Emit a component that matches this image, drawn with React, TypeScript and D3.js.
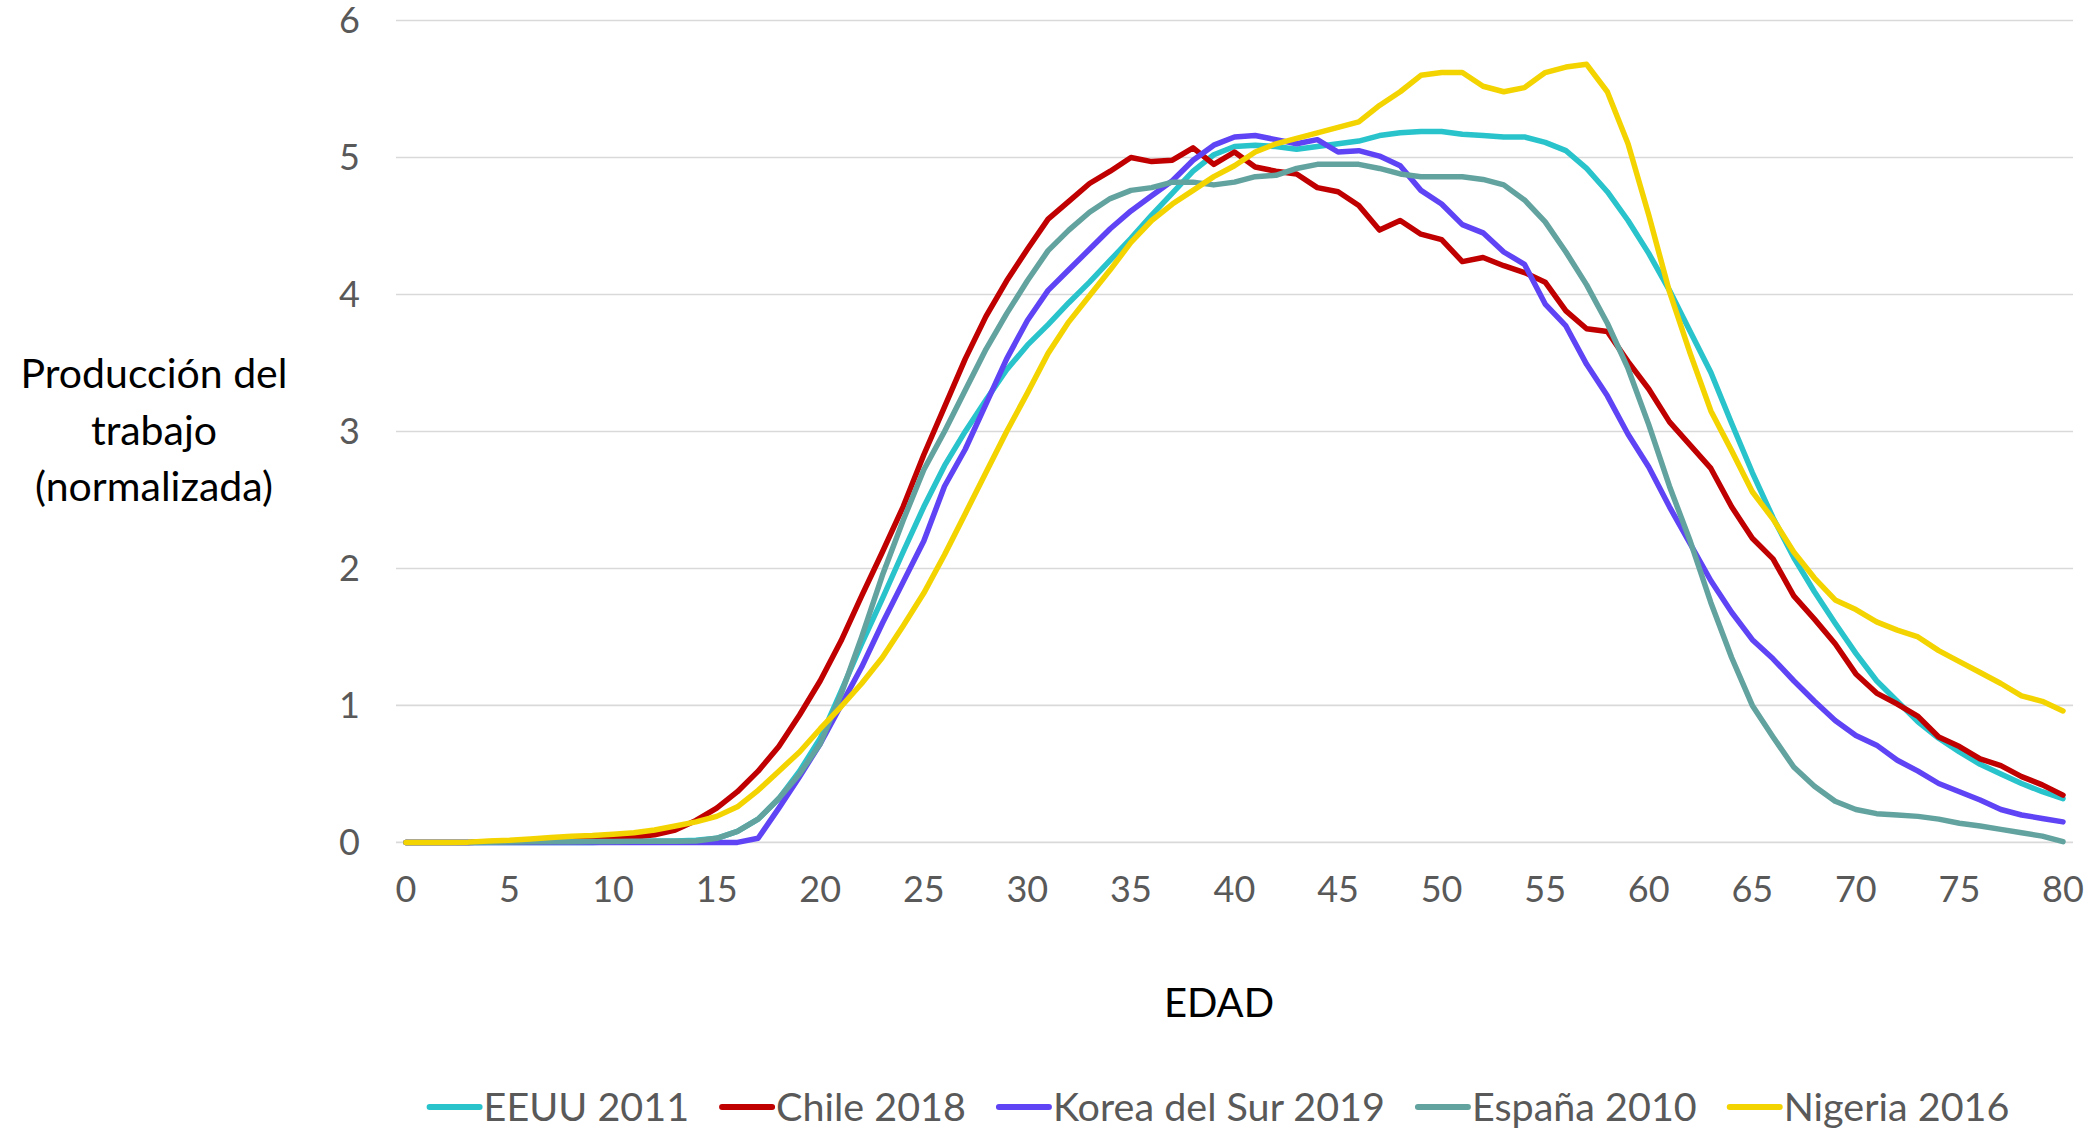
import React, { useEffect, useRef } from "react";
import * as d3 from "d3";

const ages: number[] = [
  0, 1, 2, 3, 4, 5, 6, 7, 8, 9, 10, 11, 12, 13, 14, 15, 16, 17, 18, 19, 20,
  21, 22, 23, 24, 25, 26, 27, 28, 29, 30, 31, 32, 33, 34, 35, 36, 37, 38, 39, 40,
  41, 42, 43, 44, 45, 46, 47, 48, 49, 50, 51, 52, 53, 54, 55, 56, 57, 58, 59, 60,
  61, 62, 63, 64, 65, 66, 67, 68, 69, 70, 71, 72, 73, 74, 75, 76, 77, 78, 79, 80,
];

const eeuu2011: number[] = [
  0, 0, 0, 0, 0, 0, 0, 0, 0, 0, 0.005, 0.005, 0.01, 0.01, 0.015,
  0.03, 0.08, 0.17, 0.32, 0.52, 0.76, 1.1, 1.45, 1.78, 2.12, 2.45, 2.75, 3.0, 3.23, 3.45,
  3.63, 3.78, 3.94, 4.09, 4.25, 4.41, 4.58, 4.74, 4.9, 5.02, 5.08, 5.09, 5.08, 5.06, 5.08,
  5.1, 5.12, 5.16, 5.18, 5.19, 5.19, 5.17, 5.16, 5.15, 5.15, 5.11, 5.05, 4.92, 4.75, 4.54,
  4.3, 4.03, 3.73, 3.43, 3.06, 2.7, 2.37, 2.08, 1.83, 1.6, 1.38, 1.18, 1.03, 0.88, 0.76,
  0.66, 0.57, 0.5, 0.43, 0.37, 0.32,
];

const chile2018: number[] = [
  0, 0, 0, 0, 0.005, 0.01, 0.015, 0.02, 0.025, 0.03, 0.035, 0.04, 0.055, 0.09, 0.16,
  0.25, 0.37, 0.52, 0.7, 0.93, 1.18, 1.47, 1.8, 2.12, 2.45, 2.83, 3.18, 3.53, 3.84, 4.1,
  4.33, 4.55, 4.68, 4.81, 4.9, 5.0, 4.97, 4.98, 5.07, 4.95, 5.04, 4.93, 4.9, 4.88, 4.78,
  4.75, 4.65, 4.47, 4.54, 4.44, 4.4, 4.24, 4.27, 4.21, 4.16, 4.09, 3.88, 3.75, 3.73, 3.51,
  3.31, 3.07, 2.9, 2.73, 2.45, 2.22, 2.07, 1.8, 1.63, 1.45, 1.23, 1.09, 1.01, 0.92, 0.77,
  0.7, 0.61, 0.56, 0.48, 0.42, 0.345,
];

const korea2019: number[] = [
  0, 0, 0, 0, 0, 0, 0, 0, 0, 0, 0, 0, 0, 0, 0,
  0, 0, 0.03, 0.25, 0.48, 0.72, 1.0, 1.28, 1.6, 1.9, 2.2, 2.6, 2.87, 3.2, 3.53,
  3.81, 4.03, 4.18, 4.33, 4.48, 4.61, 4.72, 4.83, 4.98, 5.09, 5.15, 5.16, 5.13, 5.1, 5.13,
  5.04, 5.05, 5.01, 4.94, 4.76, 4.66, 4.51, 4.45, 4.31, 4.22, 3.93, 3.77, 3.49, 3.26, 2.98,
  2.74, 2.45, 2.18, 1.91, 1.68, 1.48, 1.34, 1.18, 1.03, 0.89, 0.78, 0.71, 0.6, 0.52, 0.43,
  0.37, 0.31, 0.24, 0.2, 0.175, 0.15,
];

const espana2010: number[] = [
  0, 0, 0, 0, 0.002, 0.003, 0.004, 0.005, 0.005, 0.006, 0.007, 0.008, 0.008, 0.009, 0.01,
  0.03, 0.08, 0.17, 0.32, 0.5, 0.72, 1.08, 1.5, 1.95, 2.35, 2.72, 3.0, 3.3, 3.6, 3.86,
  4.1, 4.32, 4.47, 4.6, 4.7, 4.76, 4.78, 4.82, 4.82, 4.8, 4.82, 4.86, 4.87, 4.92, 4.95,
  4.95, 4.95, 4.92, 4.88, 4.86, 4.86, 4.86, 4.84, 4.8, 4.69, 4.53, 4.31, 4.07, 3.79, 3.46,
  3.05, 2.6, 2.2, 1.75, 1.35, 1.0, 0.77, 0.55, 0.41, 0.3, 0.24, 0.21, 0.2, 0.19, 0.17,
  0.14, 0.12, 0.095, 0.07, 0.046, 0.005,
];

const nigeria2016: number[] = [
  0, 0, 0, 0.002, 0.01, 0.015, 0.025, 0.035, 0.045, 0.05, 0.06, 0.07, 0.09, 0.12, 0.15,
  0.19, 0.26, 0.38, 0.52, 0.66, 0.83, 0.99, 1.16, 1.35, 1.58, 1.82, 2.1, 2.4, 2.7, 3.0,
  3.28, 3.57, 3.8, 3.99, 4.18, 4.38, 4.54, 4.66, 4.76, 4.86, 4.94, 5.04, 5.1, 5.14, 5.18,
  5.22, 5.26, 5.38, 5.48, 5.6, 5.62, 5.62, 5.52, 5.48, 5.51, 5.62, 5.66, 5.68, 5.48, 5.1,
  4.58, 4.02, 3.57, 3.15, 2.86, 2.56, 2.36, 2.12, 1.93, 1.77, 1.7, 1.61, 1.55, 1.5, 1.4,
  1.32, 1.24, 1.16, 1.07, 1.03, 0.96,
];

const seriesNames: string[] = ["EEUU 2011", "Chile 2018", "Korea del Sur 2019", "España 2010", "Nigeria 2016"];
const seriesColors: string[] = ["#28C3CB", "#C00000", "#5E44F4", "#62A39F", "#F4D400"];
const seriesValues: number[][] = [eeuu2011, chile2018, korea2019, espana2010, nigeria2016];

const yTicks: number[] = [0, 1, 2, 3, 4, 5, 6];
const xTickLabels: number[] = [0, 5, 10, 15, 20, 25, 30, 35, 40, 45, 50, 55, 60, 65, 70, 75, 80];
const yTitleLines: string[] = ["Producción del", "trabajo", "(normalizada)"];
const xTitle = "EDAD";

const W = 2100;
const H = 1130;
const FONT = "Lato, 'Noto Sans', sans-serif";

export default function App() {
  const ref = useRef<SVGSVGElement | null>(null);

  useEffect(() => {
    document.body.style.margin = "0";
    const svg = d3.select(ref.current);
    svg.selectAll("*").remove();

    const x = d3.scaleLinear().domain([0, 80]).range([406, 2063]);
    const y = d3.scaleLinear().domain([0, 6]).range([842.4, 20.5]);

    const g = svg.append("g");

    // gridlines
    g.selectAll("line.grid")
      .data(yTicks)
      .join("line")
      .attr("class", "grid")
      .attr("x1", x(0) - 10)
      .attr("x2", x(80) + 10)
      .attr("y1", (d) => y(d))
      .attr("y2", (d) => y(d))
      .attr("stroke", "#D9D9D9")
      .attr("stroke-width", 1.6);

    // y tick labels
    g.selectAll("text.ytick")
      .data(yTicks)
      .join("text")
      .attr("class", "ytick")
      .attr("x", 360)
      .attr("y", (d) => y(d))
      .attr("dy", "0.36em")
      .attr("text-anchor", "end")
      .attr("font-family", FONT)
      .attr("font-size", 36)
      .attr("fill", "#595959")
      .text((d) => String(d));

    // x tick labels
    g.selectAll("text.xtick")
      .data(xTickLabels)
      .join("text")
      .attr("class", "xtick")
      .attr("x", (d) => x(d))
      .attr("y", 902)
      .attr("text-anchor", "middle")
      .attr("font-family", FONT)
      .attr("font-size", 36)
      .attr("fill", "#595959")
      .text((d) => String(d));

    // lines
    const line = d3
      .line<number>()
      .x((_, i) => x(ages[i]))
      .y((d) => y(d));

    seriesValues.forEach((vals, si) => {
      g.append("path")
        .datum(vals)
        .attr("d", line)
        .attr("fill", "none")
        .attr("stroke", seriesColors[si])
        .attr("stroke-width", 5.5)
        .attr("stroke-linejoin", "round")
        .attr("stroke-linecap", "round");
    });

    // y title
    const yt = g
      .append("text")
      .attr("font-family", FONT)
      .attr("font-size", 41)
      .attr("fill", "#000")
      .attr("text-anchor", "middle");
    const baselines = [388, 445, 501];
    yTitleLines.forEach((t, i) => {
      yt.append("tspan").attr("x", 154).attr("y", baselines[i]).text(t);
    });

    // x title
    g.append("text")
      .attr("x", 1219)
      .attr("y", 1017)
      .attr("text-anchor", "middle")
      .attr("font-family", FONT)
      .attr("font-size", 40)
      .attr("fill", "#000")
      .text(xTitle);

    // legend
    const lg = g.append("g");
    const markerLen = 50;
    const items = seriesNames.map((name, i) => {
      const it = lg.append("g");
      it.append("line")
        .attr("x1", 3)
        .attr("x2", 3 + markerLen)
        .attr("y1", -14)
        .attr("y2", -14)
        .attr("stroke", seriesColors[i])
        .attr("stroke-width", 6)
        .attr("stroke-linecap", "round");
      const t = it
        .append("text")
        .attr("x", 57)
        .attr("y", 0)
        .attr("font-family", FONT)
        .attr("font-size", 39.5)
        .attr("fill", "#595959")
        .text(name);
      const w = 57 + (t.node() as SVGTextElement).getComputedTextLength();
      return { it, w };
    });
    const gap = 30;
    const total = items.reduce((s, d) => s + d.w, 0) + gap * (items.length - 1);
    let cx = 1218 - total / 2;
    items.forEach((d) => {
      d.it.attr("transform", `translate(${cx},1121)`);
      cx += d.w + gap;
    });
  }, []);

  return <svg ref={ref} width={W} height={H} style={{ display: "block", background: "#fff" }} />;
}
